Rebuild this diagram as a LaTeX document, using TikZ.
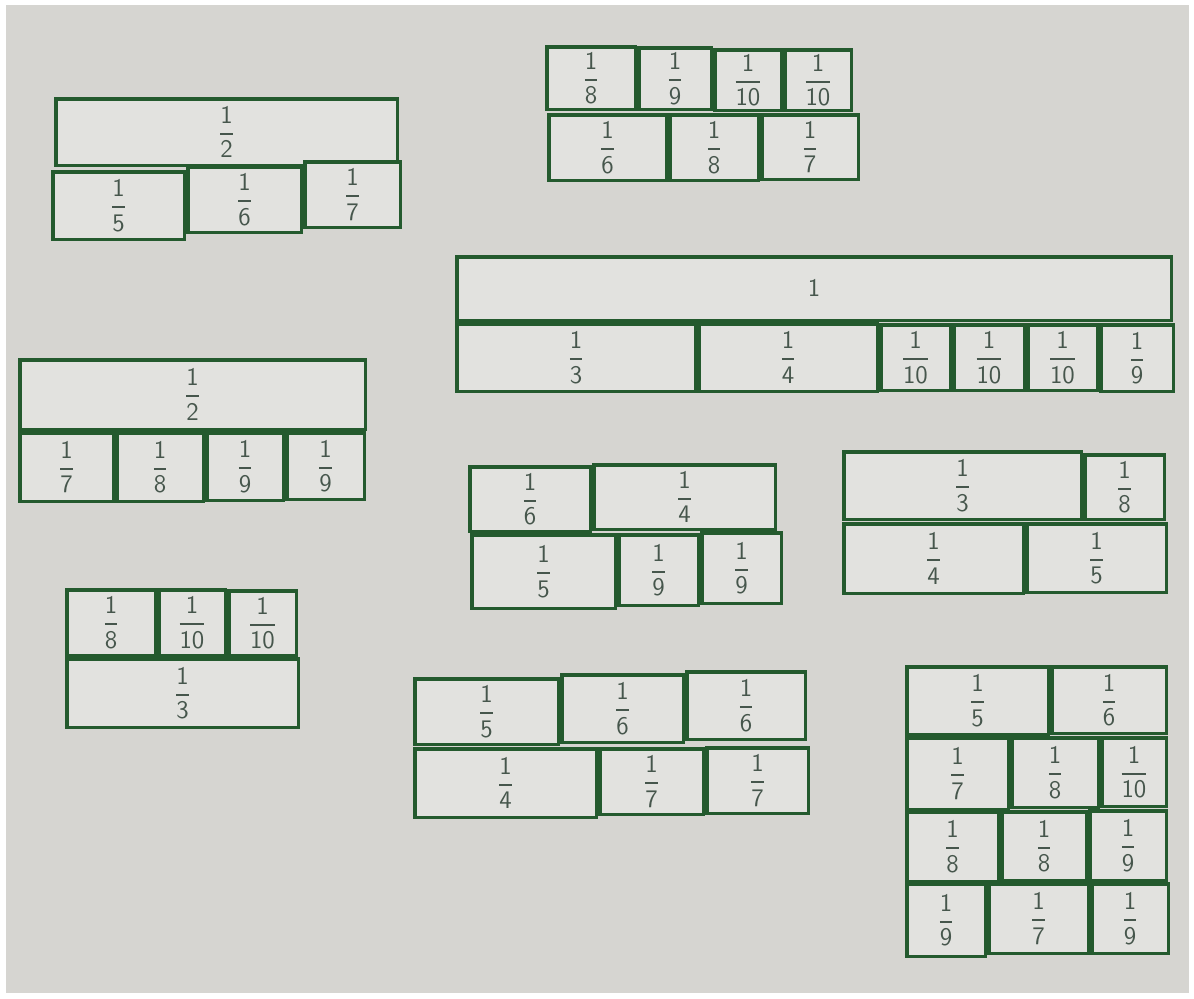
\documentclass[tikz,border=0pt]{standalone}
\usepackage{amsmath}
\usepackage{tikz}
\usetikzlibrary{positioning}
\definecolor{wallgray}{RGB}{214,213,209}
\definecolor{tilefill}{RGB}{226,226,223}
\definecolor{tilegreen}{RGB}{36,90,46}
\definecolor{inkgray}{RGB}{70,86,76}

\newcommand{\fr}[1]{$\genfrac{}{}{1pt}{0}{\mathsf{1}}{\mathsf{#1}}$}
% tile: name, left, top, right, bottom (pixels), label
\newcommand{\tile}[6]{\node[tile, minimum width={(#4-#2-3.5)*0.02cm},
  minimum height={(#5-#3-3.5)*0.02cm}] (#1) at ({(#2+#4)/2},{(#3+#5)/2}) {#6};}

\begin{document}
\begin{tikzpicture}[
  x=0.02cm, y=-0.02cm,
  tile/.style={draw=tilegreen, fill=tilefill, line width=0.07cm,
    inner sep=0pt, font=\Large, text=inkgray}
]
  \useasboundingbox (0,0) rectangle (1194,998);
  \fill[white] (0,0) rectangle (1194,998);
  \fill[wallgray] (6,5) rectangle (1189,993);
  % top left
  \tile{aHalf}{54}{97}{399}{167}{\fr{2}}
  \tile{aFifth}{51}{170}{186}{241}{\fr{5}}
  \tile{aSixth}{186}{165}{303}{234}{\fr{6}}
  \tile{aSeventh}{303}{160}{402}{229}{\fr{7}}
  % top middle
  \tile{bEighth}{545}{45}{637}{111}{\fr{8}}
  \tile{bNinth}{637}{46}{713}{111}{\fr{9}}
  \tile{bTenthA}{713}{48}{783}{112}{\fr{10}}
  \tile{bTenthB}{783}{48}{853}{112}{\fr{10}}
  \tile{bSixth}{547}{113}{668}{182}{\fr{6}}
  \tile{bEighthB}{668}{113}{760}{182}{\fr{8}}
  \tile{bSeventh}{760}{113}{860}{181}{\fr{7}}
  % whole
  \tile{cOne}{455}{255}{1173}{322}{$\mathsf{1}$}
  \tile{cThird}{455}{322}{697}{393}{\fr{3}}
  \tile{cFourth}{697}{322}{879}{393}{\fr{4}}
  \tile{cTenthA}{879}{323}{952}{392}{\fr{10}}
  \tile{cTenthB}{952}{323}{1026}{392}{\fr{10}}
  \tile{cTenthC}{1026}{323}{1099}{392}{\fr{10}}
  \tile{cNinth}{1099}{323}{1175}{393}{\fr{9}}
  % middle left
  \tile{dHalf}{18}{358}{367}{431}{\fr{2}}
  \tile{dSeventh}{18}{431}{115}{503}{\fr{7}}
  \tile{dEighth}{115}{431}{205}{503}{\fr{8}}
  \tile{dNinthA}{205}{431}{285}{502}{\fr{9}}
  \tile{dNinthB}{285}{431}{366}{501}{\fr{9}}
  % center
  \tile{eSixth}{468}{465}{592}{533}{\fr{6}}
  \tile{eFourth}{592}{463}{777}{531}{\fr{4}}
  \tile{eFifth}{470}{533}{617}{610}{\fr{5}}
  \tile{eNinthA}{617}{533}{700}{607}{\fr{9}}
  \tile{eNinthB}{700}{531}{783}{605}{\fr{9}}
  % middle right
  \tile{fThird}{842}{450}{1083}{521}{\fr{3}}
  \tile{fEighth}{1083}{453}{1166}{521}{\fr{8}}
  \tile{fFourth}{842}{522}{1025}{595}{\fr{4}}
  \tile{fFifth}{1025}{522}{1168}{594}{\fr{5}}
  % lower left
  \tile{gEighth}{65}{588}{157}{657}{\fr{8}}
  \tile{gTenthA}{157}{588}{227}{657}{\fr{10}}
  \tile{gTenthB}{227}{589}{298}{657}{\fr{10}}
  \tile{gThird}{65}{657}{300}{729}{\fr{3}}
  % bottom middle
  \tile{hFifth}{413}{677}{560}{746}{\fr{5}}
  \tile{hSixthA}{560}{673}{685}{744}{\fr{6}}
  \tile{hSixthB}{685}{670}{807}{741}{\fr{6}}
  \tile{hFourth}{413}{747}{598}{819}{\fr{4}}
  \tile{hSeventhA}{598}{747}{705}{816}{\fr{7}}
  \tile{hSeventhB}{705}{746}{810}{815}{\fr{7}}
  % bottom right
  \tile{iFifth}{905}{665}{1050}{736}{\fr{5}}
  \tile{iSixth}{1050}{665}{1168}{735}{\fr{6}}
  \tile{iSeventh}{905}{736}{1010}{811}{\fr{7}}
  \tile{iEighth}{1010}{736}{1100}{809}{\fr{8}}
  \tile{iTenth}{1100}{736}{1168}{808}{\fr{10}}
  \tile{iEighthB}{905}{810}{1000}{883}{\fr{8}}
  \tile{iEighthC}{1000}{810}{1088}{882}{\fr{8}}
  \tile{iNinth}{1088}{809}{1168}{882}{\fr{9}}
  \tile{iNinthB}{905}{882}{987}{958}{\fr{9}}
  \tile{iSeventhB}{987}{882}{1090}{955}{\fr{7}}
  \tile{iNinthC}{1090}{882}{1170}{955}{\fr{9}}
\end{tikzpicture}
\end{document}
